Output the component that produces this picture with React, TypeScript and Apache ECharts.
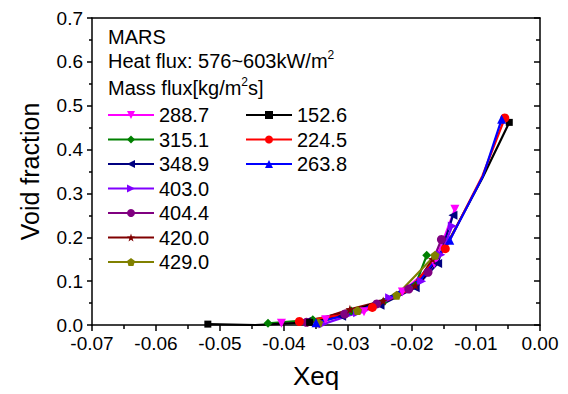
import React, { useEffect, useRef } from "react";
import * as echarts from "echarts";

const FONT = "'Liberation Sans', Arial, sans-serif";

const seriesNames = ["288.7", "315.1", "348.9", "403.0", "404.4", "420.0", "429.0", "152.6", "224.5", "263.8"];
const seriesColors = ["#FF00FF", "#008000", "#000080", "#8000FF", "#800080", "#800000", "#808000", "#000000", "#FF0000", "#0000FF"];

const STAR = "path://M0,-10 L2.35,-3.24 L9.51,-3.09 L3.8,1.24 L5.88,8.09 L0,4 L-5.88,8.09 L-3.8,1.24 L-9.51,-3.09 L-2.35,-3.24 Z";
const PENTAGON = "path://M0,-10 L9.51,-3.09 L5.88,8.09 L-5.88,8.09 L-9.51,-3.09 Z";
const seriesSymbols = ["triangle", "diamond", "triangle", "triangle", "circle", STAR, PENTAGON, "rect", "circle", "triangle"];
const seriesRotate = [180, 0, 90, -90, 0, 0, 0, 0, 0, 0];

const s288_7 = [[-0.0404, 0.004], [-0.0335, 0.012], [-0.0275, 0.03], [-0.0215, 0.075], [-0.0165, 0.14], [-0.0133, 0.264]];
const s315_1 = [[-0.0425, 0.004], [-0.0355, 0.012], [-0.0295, 0.032], [-0.0245, 0.052], [-0.0195, 0.09], [-0.0177, 0.159]];
const s348_9 = [[-0.0365, 0.008], [-0.031, 0.02], [-0.025, 0.045], [-0.0195, 0.085], [-0.016, 0.14], [-0.0136, 0.25]];
const s403_0 = [[-0.0339, 0.002], [-0.0285, 0.028], [-0.0235, 0.062], [-0.0185, 0.1], [-0.0155, 0.16], [-0.0137, 0.226]];
const s404_4 = [[-0.0365, 0.006], [-0.0305, 0.025], [-0.0255, 0.048], [-0.0205, 0.082], [-0.0175, 0.12], [-0.0154, 0.195]];
const s420_0 = [[-0.0359, 0.006], [-0.0297, 0.036], [-0.0245, 0.055], [-0.0195, 0.09], [-0.0168, 0.15]];
const s429_0 = [[-0.0346, 0.005], [-0.0285, 0.033], [-0.0224, 0.068], [-0.0164, 0.159]];
const s152_6 = [[-0.0519, 0.002], [-0.0445, 0.0], [-0.036, 0.006], [-0.0295, 0.03], [-0.024, 0.06], [-0.0183, 0.105], [-0.0145, 0.185], [-0.009, 0.335], [-0.0048, 0.462]];
const s224_5 = [[-0.0376, 0.008], [-0.0315, 0.022], [-0.0262, 0.04], [-0.0205, 0.08], [-0.0148, 0.174], [-0.009, 0.34], [-0.0055, 0.472]];
const s263_8 = [[-0.035, 0.005], [-0.029, 0.028], [-0.0235, 0.062], [-0.0185, 0.105], [-0.0141, 0.193], [-0.0089, 0.34], [-0.006, 0.469]];

const seriesData = [s288_7, s315_1, s348_9, s403_0, s404_4, s420_0, s429_0, s152_6, s224_5, s263_8];
// indices of points drawn without a marker (as in the reference)
const hiddenMarkers: number[][] = [[], [], [], [], [], [], [], [1, 3, 4, 5, 6, 7], [1, 3, 5], [1, 2, 3, 5]];

export default function App() {
  const ref = useRef<HTMLDivElement>(null);
  useEffect(() => {
    document.body.style.margin = "0";
    if (!ref.current) return;
    const chart = echarts.init(ref.current, null, { renderer: "svg" });
    const series = seriesNames.map((name, i) => ({
      name,
      type: "line",
      data: seriesData[i].map((p, j) =>
        hiddenMarkers[i].includes(j) ? { value: p, symbol: "none" } : { value: p }
      ),
      symbol: seriesSymbols[i],
      symbolRotate: seriesRotate[i],
      symbolSize: seriesSymbols[i] === "rect" ? 7 : 9,
      showAllSymbol: true,
      color: seriesColors[i],
      lineStyle: { width: 2.2, color: seriesColors[i] },
      itemStyle: { color: seriesColors[i] },
      z: 2,
    }));
    const legendText = { fontFamily: FONT, fontSize: 20, color: "#000", lineHeight: 20 };
    const legendCommon = {
      orient: "vertical",
      top: 105,
      itemWidth: 46,
      itemHeight: 10,
      itemGap: 4.5,
      textStyle: legendText,
      padding: 0,
    };
    chart.setOption({
      animation: false,
      grid: { left: 92, right: 28, top: 18, bottom: 67 },
      legend: [
        { ...legendCommon, data: seriesNames.slice(0, 7), left: 107 },
        { ...legendCommon, data: seriesNames.slice(7), left: 245 },
      ],
      xAxis: [
        {
          type: "value",
          min: -0.07,
          max: 0,
          interval: 0.01,
          name: "Xeq",
          nameLocation: "middle",
          nameGap: 38,
          nameTextStyle: { fontFamily: FONT, fontSize: 26, color: "#000" },
          axisLine: { show: true, lineStyle: { color: "#000", width: 1.5 } },
          axisTick: { show: true, inside: false, length: 6, lineStyle: { color: "#000", width: 1.5 } },
          minorTick: { show: true, splitNumber: 2, length: 4, lineStyle: { color: "#000", width: 1.5 } },
          splitLine: { show: false },
          axisLabel: {
            fontFamily: FONT,
            fontSize: 19,
            color: "#000",
            margin: 9,
            formatter: (v: number) => v.toFixed(2),
          },
        },
        {
          type: "value",
          position: "top",
          min: -0.07,
          max: 0,
          interval: 0.01,
          axisLine: { show: true, onZero: false, lineStyle: { color: "#000", width: 1.5 } },
          axisTick: { show: false },
          axisLabel: { show: false },
          splitLine: { show: false },
        },
      ],
      yAxis: [
        {
          type: "value",
          min: 0,
          max: 0.7,
          interval: 0.1,
          name: "Void fraction",
          nameLocation: "middle",
          nameGap: 50,
          nameTextStyle: { fontFamily: FONT, fontSize: 25, color: "#000" },
          axisLine: { show: true, onZero: false, lineStyle: { color: "#000", width: 1.5 } },
          axisTick: { show: true, inside: false, length: 5, lineStyle: { color: "#000", width: 1.5 } },
          minorTick: { show: true, splitNumber: 2, length: 3, lineStyle: { color: "#000", width: 1.5 } },
          splitLine: { show: false },
          axisLabel: {
            fontFamily: FONT,
            fontSize: 19,
            color: "#000",
            margin: 9,
            formatter: (v: number) => v.toFixed(1),
          },
        },
        {
          type: "value",
          position: "right",
          min: 0,
          max: 0.7,
          interval: 0.1,
          axisLine: { show: true, onZero: false, lineStyle: { color: "#000", width: 1.5 } },
          axisTick: { show: true, inside: true, length: 6, lineStyle: { color: "#000", width: 1.5 } },
          minorTick: { show: true, splitNumber: 2, length: 4, lineStyle: { color: "#000", width: 1.5 } },
          axisLabel: { show: false },
          splitLine: { show: false },
        },
      ],
      graphic: [
        {
          type: "text",
          left: 108,
          top: 27,
          style: { text: "MARS", fontFamily: FONT, fontSize: 20, fill: "#000" },
        },
        {
          type: "text",
          left: 108,
          top: 49,
          style: {
            text: "{a|Heat flux: 576~603kW/m}{s|2}",
            rich: {
              a: { fontFamily: FONT, fontSize: 20, fill: "#000", color: "#000" },
              s: { fontFamily: FONT, fontSize: 12, fill: "#000", color: "#000", padding: [0, 0, 12, 0] },
            },
          },
        },
        {
          type: "text",
          left: 108,
          top: 76,
          style: {
            text: "{a|Mass flux[kg/m}{s|2}{a|s]}",
            rich: {
              a: { fontFamily: FONT, fontSize: 20, fill: "#000", color: "#000" },
              s: { fontFamily: FONT, fontSize: 12, fill: "#000", color: "#000", padding: [0, 0, 12, 0] },
            },
          },
        },
      ],
      series,
    });
    return () => chart.dispose();
  }, []);
  return <div ref={ref} style={{ width: 568, height: 394 }} />;
}
